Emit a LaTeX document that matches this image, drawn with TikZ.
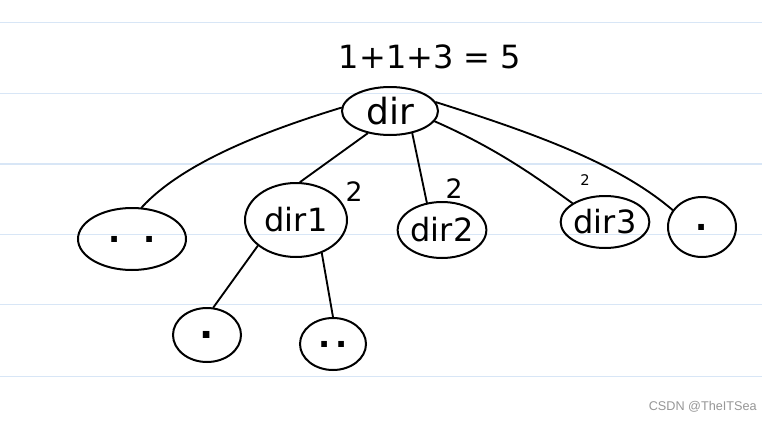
\documentclass[tikz,border=0pt]{standalone}
\usepackage{fontspec}
\setmainfont{DejaVu Sans}
\newfontfamily\markfont{Liberation Sans}
\usetikzlibrary{shapes.geometric}

\definecolor{paperline}{RGB}{216,230,246}
\definecolor{markgray}{RGB}{150,150,150}

\tikzset{
  bubble/.style={draw, ellipse, line width=1.5pt, inner sep=0pt, font=\fontsize{24}{28}\selectfont},
  hand/.style={line width=1.4pt, line cap=round},
  count/.style={inner sep=0.75pt, font=\fontsize{20}{24}\selectfont}
}

\begin{document}
\begin{tikzpicture}[x=0.75pt,y=0.75pt,yscale=-1,xscale=1]
\useasboundingbox (0,0) rectangle (771,421);

%Ruled paper lines
\foreach \y in {22.7,93.3,164,234.3,304.7,376.7}
  \draw [color=paperline, line width=1pt] (0,\y) -- (762,\y);

% Text Node
\node [inner sep=0.75pt, font=\fontsize{24}{28}\selectfont] (sum) at (430,57) {1+1+3 = 5};

%Shape: Ellipse
\node [bubble, minimum width=72pt, minimum height=36pt, font=\fontsize{27}{30}\selectfont] (dir) at (390,111) {dir};
%Shape: Ellipse
\node [bubble, minimum width=81pt, minimum height=46.5pt, font=\bfseries\fontsize{24}{28}\selectfont] (up) at (132,239) {.\ \ .};
%Shape: Ellipse
\node [bubble, minimum width=76.5pt, minimum height=55.5pt] (dirA) at (296,220) {dir1};
%Shape: Ellipse
\node [bubble, minimum width=60pt, minimum height=42pt] (dirB) at (442,230) {dir2};
%Shape: Ellipse
\node [bubble, minimum width=55.5pt, minimum height=39pt] (dirC) at (605,222) {dir3};
%Shape: Ellipse
\node [bubble, minimum width=51pt, minimum height=45pt, font=\bfseries\fontsize{24}{28}\selectfont] (here) at (702,227) {.};
%Shape: Ellipse
\node [bubble, minimum width=51pt, minimum height=40.5pt, font=\bfseries\fontsize{28}{30}\selectfont] (hereA) at (207,335) {.};
%Shape: Ellipse
\node [bubble, minimum width=49.5pt, minimum height=39pt, font=\bfseries\fontsize{24}{28}\selectfont] (upA) at (333,344) {.\,.};

% Text Node
\node [count] (cntA) at (354,192) {2};
% Text Node
\node [count] (cntB) at (454,189) {2};
% Text Node
\node [count, font=\fontsize{11}{13}\selectfont] (cntC) at (585,180) {2};

%Curve Lines
\draw [hand] (dir.176) .. controls (275,128) and (185,160) .. (up.73);
%Straight Lines
\draw [hand] (dir.225) -- (dirA.84);
%Straight Lines
\draw [hand] (dir.315) -- (dirB.119);
%Curve Lines
\draw [hand] (dir.347) .. controls (500,150) and (540,180) .. (dirC.150);
%Curve Lines
\draw [hand] (dir.11) .. controls (540,135) and (620,165) .. (here.150);
%Straight Lines
\draw [hand] (dirA.214) -- (hereA.77);
%Straight Lines
\draw [hand] (dirA.308) -- (upA.90);

% Text Node
\node [anchor=east, inner sep=0pt, text=markgray, font=\markfont\fontsize{9.5}{11}\selectfont] (mark) at (757,407) {CSDN @TheITSea};

\end{tikzpicture}
\end{document}
